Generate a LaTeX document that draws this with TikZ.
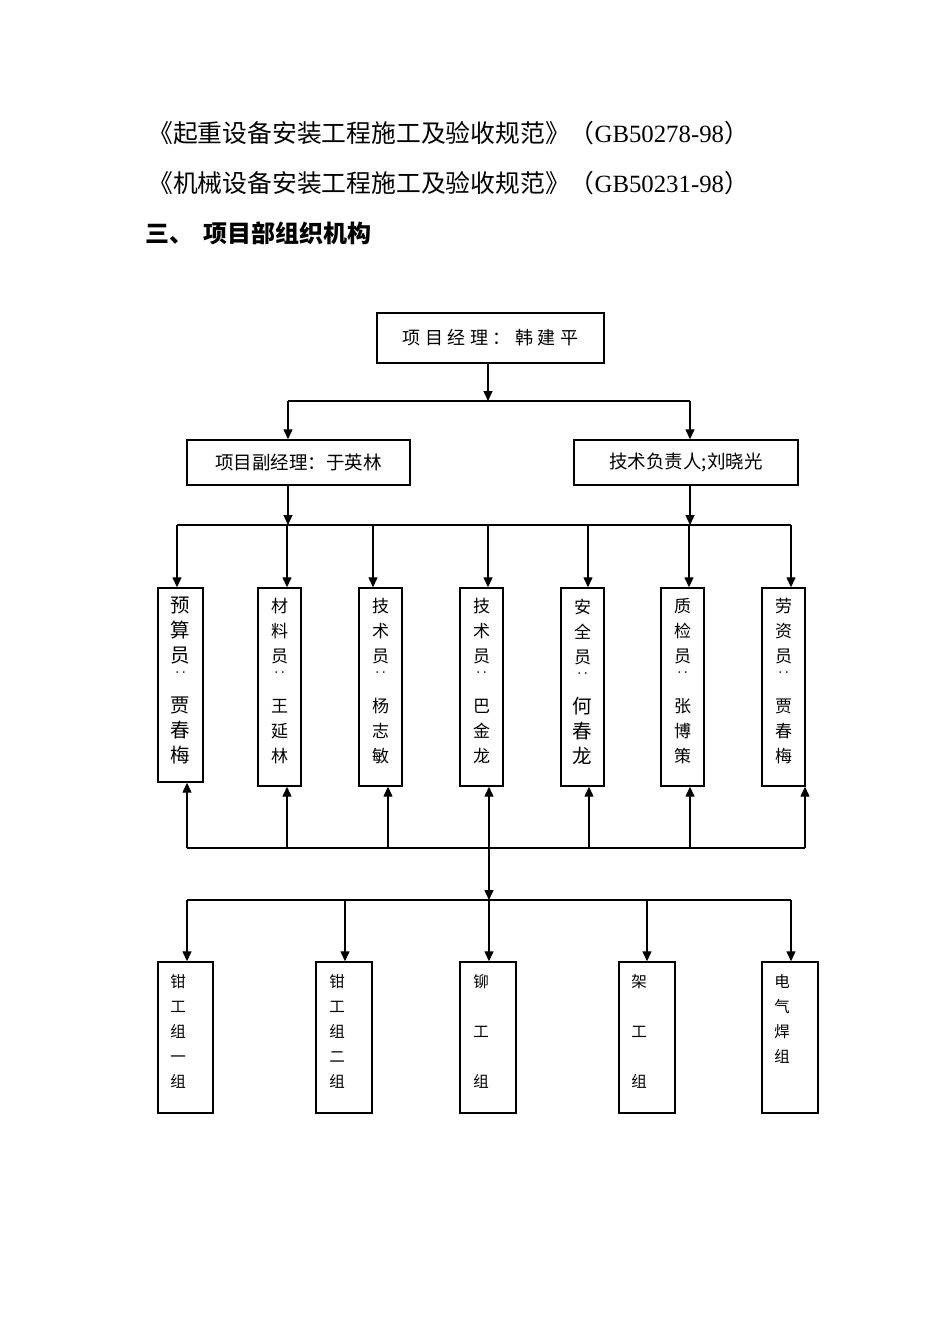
\documentclass[tikz,border=0pt]{standalone}
\usepackage{fontspec}
\setmainfont{Liberation Serif}
\newfontfamily\cjk{Noto Sans CJK SC}
\usetikzlibrary{arrows.meta,calc}
\newcommand\twodots{\raisebox{10pt}{\fontsize{13}{13}\selectfont ‥}}
\newcommand\bigch[1]{{\fontsize{19.5}{25}\selectfont #1}}
\begin{document}
\begin{tikzpicture}[x=1pt,y=-1pt,
  box/.style={draw,line width=1.4pt,inner sep=0},
  arr/.style={line width=1.3pt,-{Triangle[length=10pt,width=9pt]}},
  ln/.style={line width=1.3pt},
  vt/.style={font=\cjk\fontsize{17}{25}\selectfont,align=center,inner sep=0,anchor=north},
  bt/.style={font=\cjk\fontsize{15.5}{25}\selectfont,align=center,inner sep=0,anchor=north},
  ht/.style={inner sep=0,anchor=base west}]
\useasboundingbox (0,0) rectangle (950,1344);
% heading text
\node[ht,font=\fontsize{24.8}{28}\selectfont] (l1) at (148,142) {{\cjk 《起重设备安装工程施工及验收规范》（}GB50278-98{\cjk ）}};
\node[ht,font=\fontsize{24.8}{28}\selectfont] (l2) at (148,192) {{\cjk 《机械设备安装工程施工及验收规范》（}GB50231-98{\cjk ）}};
\node[ht,font=\cjk\bfseries\fontsize{24}{28}\selectfont] (h3) at (145,242) {三、\hspace{10pt}项目部组织机构};
% level 1
\node[box,minimum width=227,minimum height=50,font=\cjk\fontsize{18}{20}\selectfont] (pm) at (490.5,338)
  {项\hspace{4.5pt}目\hspace{4.5pt}经\hspace{4.5pt}理\hspace{4.5pt}：\hspace{4.5pt}韩\hspace{4.5pt}建\hspace{4.5pt}平};
% level 2
\node[box,minimum width=223,minimum height=45,font=\cjk\fontsize{18.5}{20}\selectfont] (vp) at (298.5,462.5) {项目副经理：于英林};
\node[box,minimum width=224,minimum height=45,font=\cjk\fontsize{18.5}{20}\selectfont] (te) at (686,462.5) {技术负责人;刘晓光};
% level 3 boxes
\node[box,minimum width=45,minimum height=194] (s1) at (180.5,685) {};
\node[box,minimum width=43,minimum height=198] (s2) at (279.5,687) {};
\node[box,minimum width=43,minimum height=198] (s3) at (380.5,687) {};
\node[box,minimum width=43,minimum height=198] (s4) at (481.5,687) {};
\node[box,minimum width=43,minimum height=198] (s5) at (582.5,687) {};
\node[box,minimum width=43,minimum height=198] (s6) at (682.5,687) {};
\node[box,minimum width=43,minimum height=198] (s7) at (783.5,687) {};
\node[vt] (t1) at (180.5,597) {\bigch{预}\\\bigch{算}\\\bigch{员}\\\twodots\\\bigch{贾}\\\bigch{春}\\\bigch{梅}};
\node[vt] (t2) at (279.5,598.5) {材\\料\\员\\\twodots\\王\\延\\林};
\node[vt] (t3) at (380.5,598.5) {技\\术\\员\\\twodots\\杨\\志\\敏};
\node[vt] (t4) at (481.5,598.5) {技\\术\\员\\\twodots\\巴\\金\\龙};
\node[vt] (t5) at (582.5,598.5) {安\\全\\员\\\twodots\\\bigch{何}\\\bigch{春}\\\bigch{龙}};
\node[vt] (t6) at (682.5,598.5) {质\\检\\员\\\twodots\\张\\博\\策};
\node[vt] (t7) at (783.5,598.5) {劳\\资\\员\\\twodots\\贾\\春\\梅};
% level 4 boxes
\node[box,minimum width=55,minimum height=151] (g1) at (185.5,1037.5) {};
\node[box,minimum width=56,minimum height=151] (g2) at (344,1037.5) {};
\node[box,minimum width=56,minimum height=151] (g3) at (488,1037.5) {};
\node[box,minimum width=56,minimum height=151] (g4) at (647,1037.5) {};
\node[box,minimum width=56,minimum height=151] (g5) at (790,1037.5) {};
\node[bt] (u1) at (178,974) {钳\\工\\组\\一\\组};
\node[bt] (u2) at (337,974) {钳\\工\\组\\二\\组};
\node[bt] (u3) at (481,974) {铆\\\mbox{}\\工\\\mbox{}\\组};
\node[bt] (u4) at (639,974) {架\\\mbox{}\\工\\\mbox{}\\组};
\node[bt] (u5) at (782,974) {电\\气\\焊\\组};
% junction coordinates
\coordinate (j1) at (488,401);
\coordinate (j1l) at (288,401);
\coordinate (j1r) at (690,401);
\coordinate (j2l) at (288,525);
\coordinate (j2r) at (690,525);
\coordinate (b2a) at (177,525);
\coordinate (b2b) at (791,525);
\coordinate (b3a) at (187,848);
\coordinate (b3b) at (805,848);
\coordinate (b3m) at (489,848);
\coordinate (b4m) at (489,900);
\coordinate (b4a) at (187,900);
\coordinate (b4b) at (791,900);
% connectors level 1 -> 2
\draw[arr] (pm.south -| j1) -- (j1);
\draw[ln] (j1l) -- (j1r);
\draw[arr] (j1l) -- (j1l |- vp.north);
\draw[arr] (j1r) -- (j1r |- te.north);
% level 2 -> bus
\draw[arr] (vp.south -| j2l) -- (j2l);
\draw[arr] (te.south -| j2r) -- (j2r);
\draw[ln] (b2a) -- (b2b);
\draw[arr] (b2a) -- (b2a |- s1.north);
\draw[arr] (287,525) -- (287,0 |- s2.north);
\draw[arr] (373,525) -- (373,0 |- s3.north);
\draw[arr] (488,525) -- (488,0 |- s4.north);
\draw[arr] (588,525) -- (588,0 |- s5.north);
\draw[arr] (689,525) -- (689,0 |- s6.north);
\draw[arr] (b2b) -- (b2b |- s7.north);
% bus 3 up
\draw[ln] (b3a) -- (b3b);
\draw[arr] (b3a) -- (b3a |- s1.south);
\draw[arr] (287,848) -- (287,0 |- s2.south);
\draw[arr] (388,848) -- (388,0 |- s3.south);
\draw[arr] (b3m) -- (b3m |- s4.south);
\draw[arr] (589,848) -- (589,0 |- s5.south);
\draw[arr] (690,848) -- (690,0 |- s6.south);
\draw[arr] (b3b) -- (b3b |- s7.south);
% bus 3 -> bus 4
\draw[arr] (b3m) -- (b4m);
\draw[ln] (b4a) -- (b4b);
\draw[arr] (b4a) -- (b4a |- g1.north);
\draw[arr] (345,900) -- (345,0 |- g2.north);
\draw[arr] (b4m) -- (b4m |- g3.north);
\draw[arr] (647,900) -- (647,0 |- g4.north);
\draw[arr] (b4b) -- (b4b |- g5.north);
\end{tikzpicture}
\end{document}
